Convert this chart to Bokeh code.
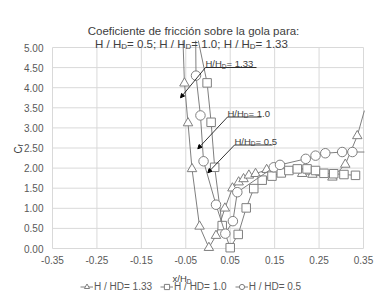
import math
from bokeh.plotting import figure
from bokeh.models import (Range1d, FixedTicker, NumeralTickFormatter, Label, Arrow,
                          NormalHead, Legend, LegendItem, LinearAxis)
from bokeh.embed import file_html
from bokeh.resources import INLINE

# ---- data ----
# first / last entries of a series are where its line leaves the plot area (no marker there)
x_133 = [-0.0563, -0.053, -0.045, -0.036, -0.019, 0.002, 0.018, 0.038, 0.055, 0.069, 0.080,
         0.092, 0.107, 0.132, 0.156, 0.212, 0.235, 0.280, 0.309, 0.336, 0.352]
y_133 = [5.17, 4.11, 3.12, 1.98, 0.55, 0.02, 0.32, 1.00, 1.50, 1.65, 1.73,
         1.82, 1.86, 1.96, 2.02, 1.86, 1.84, 1.77, 2.09, 2.80, 3.43]

x_100 = [-0.0218, -0.002, 0.007, 0.015, 0.032, 0.050, 0.068, 0.086, 0.103, 0.122, 0.144,
         0.165, 0.182, 0.201, 0.223, 0.242, 0.261, 0.283, 0.306, 0.332]
y_100 = [5.17, 4.12, 3.14, 2.02, 0.57, 0.02, 0.35, 1.01, 1.49, 1.70, 1.80,
         1.88, 1.94, 1.98, 1.98, 1.94, 1.87, 1.86, 1.84, 1.82]

x_050 = [-0.0277, -0.027, -0.017, -0.010, 0.018, 0.039, 0.056, 0.066, 0.148, 0.162,
         0.220, 0.242, 0.264, 0.302, 0.325, 0.352]
y_050 = [5.17, 4.30, 3.31, 2.17, 1.09, 0.37, 0.68, 1.40, 2.02, 2.08,
         2.23, 2.31, 2.37, 2.40, 2.40, 2.40]

x_ticks = [-0.35, -0.25, -0.15, -0.05, 0.05, 0.15, 0.25, 0.35]
y_ticks = [0.0, 0.5, 1.0, 1.5, 2.0, 2.5, 3.0, 3.5, 4.0, 4.5, 5.0]
x_min, x_max = -0.35, 0.35
y_min, y_max = 0.0, 5.0

legend_labels = ["H / HD= 1.33", "H / HD= 1.0", "H / HD= 0.5"]
title_line1 = "Coeficiente de fricción sobre la gola para:"
title_values = ["0.5", "1.0", "1.33"]
annot_values = ["1.33", "1.0", "0.5"]

FONT = "Liberation Sans"
TXT = "#404040"
GRAY = "#7f7f7f"
GRID = "#d9d9d9"

# canvas geometry: plot area spans pixels 52..363 (x) and 47..248 (y) of a 385x303 canvas
CW, CH = 385, 303
L, R, T, B = 52, 363, 47, 248
sx = (x_max - x_min) / (R - L)
sy = (y_max - y_min) / (B - T)
def px2x(px):
    return x_min + (px - L) * sx
def py2y(py):
    return y_min + (B - py) * sy

# Liberation Sans (Arial-metric) advance widths, em
W = {'H': 0.722, 'D': 0.722, '/': 0.278, ' ': 0.278, '=': 0.584, '.': 0.278, ';': 0.278,
     'x': 0.5, 'C': 0.722, 'f': 0.278}
def tw(s, fs):
    return sum(W.get(c, 0.556) for c in s) * fs

p = figure(width=CW, height=CH, output_backend="svg", toolbar_location=None,
           x_range=Range1d(px2x(0), px2x(CW)), y_range=Range1d(py2y(CH), py2y(0)),
           x_axis_location=None, y_axis_location=None, title=None,
           min_border=0, min_border_left=0, min_border_right=0, min_border_top=0,
           min_border_bottom=0)
p.background_fill_color = "white"
p.border_fill_color = "white"
p.outline_line_color = None
for g in p.grid:
    g.visible = False

xaxis = LinearAxis(fixed_location=y_min, ticker=FixedTicker(ticks=x_ticks),
                   formatter=NumeralTickFormatter(format="0.00"))
yaxis = LinearAxis(fixed_location=x_min, ticker=FixedTicker(ticks=y_ticks),
                   formatter=NumeralTickFormatter(format="0.00"))
for ax in (xaxis, yaxis):
    ax.axis_line_color = None
    ax.major_tick_line_color = None
    ax.minor_tick_line_color = None
    ax.major_tick_out = 0
    ax.major_tick_in = 0
    ax.major_label_text_font = FONT
    ax.major_label_text_font_size = "10px"
    ax.major_label_text_color = "#595959"
xaxis.major_label_standoff = 7
yaxis.major_label_standoff = 9
p.add_layout(xaxis, "below")
p.add_layout(yaxis, "left")

# grid restricted to the plot area
p.segment(x0=x_ticks, y0=[y_min] * len(x_ticks), x1=x_ticks, y1=[y_max] * len(x_ticks),
          line_color=GRID, line_width=1)
p.segment(x0=[x_min] * len(y_ticks), y0=y_ticks, x1=[x_max] * len(y_ticks), y1=y_ticks,
          line_color=GRID, line_width=1)

series = [(x_133, y_133, "triangle", 9.5, slice(1, -1)),
          (x_100, y_100, "square", 8.5, slice(1, None)),
          (x_050, y_050, "circle", 9.5, slice(1, -1))]
items = []
for (xs, ys, mk, sz, sl), lab in zip(series, legend_labels):
    l = p.line(xs, ys, line_color=GRAY, line_width=1)
    s = p.scatter(xs[sl], ys[sl], marker=mk, size=sz, fill_color="white", line_color=GRAY,
                  line_width=1)
    items.append(LegendItem(label=lab, renderers=[l, s]))

leg = Legend(items=items, orientation="horizontal", location=(80, 10),
             label_text_font=FONT, label_text_font_size="10px", label_text_color="#595959",
             glyph_width=13, glyph_height=13, label_standoff=1, spacing=8, padding=0, margin=0,
             border_line_color=None, background_fill_alpha=0)
p.add_layout(leg, "center")

def sub_text(x, y, parts, fs, sfs, align_center=False, color=TXT):
    total = sum(tw(t, sfs if s else fs) for t, s in parts)
    off = -total / 2 if align_center else 0
    for t, s in parts:
        f = sfs if s else fs
        p.add_layout(Label(x=x, y=y, x_offset=off, y_offset=(-2.5 if s else 0), text=t,
                           text_font=FONT, text_font_size=f"{f}px", text_color=color,
                           text_baseline="alphabetic", text_align="left"))
        off += tw(t, f)

# title
p.add_layout(Label(x=px2x(193), y=py2y(30), text=title_line1, text_font=FONT,
                   text_font_size="11.5px", text_color=TXT, text_align="center",
                   text_baseline="alphabetic"))
parts = []
for i, v in enumerate(title_values):
    parts += [("H / H", False), ("D", True), ("= " + v + ("; " if i < 2 else ""), False)]
sub_text(px2x(191), py2y(43.5), parts, 11.5, 8, align_center=True)

# annotations: text start, baseline, underline end, arrow tip
ann = [(205, 63, 256, 180, 97.3), (227, 112.5, 261, 197.3, 148.3),
       (234, 140.5, 272, 207.3, 172.3)]
for (tx, ty, ux, ax_, ay_), v in zip(ann, annot_values):
    sub_text(px2x(tx), py2y(ty), [("H/H", False), ("D", True), (" = " + v, False)], 9.5, 6.5)
    uy = py2y(ty + 4)
    p.segment(x0=[px2x(tx)], y0=[uy], x1=[px2x(ux)], y1=[uy], line_color="black",
              line_width=0.8)
    p.add_layout(Arrow(end=NormalHead(size=4, fill_color="black", line_color="black"),
                       x_start=px2x(tx), y_start=uy, x_end=px2x(ax_), y_end=py2y(ay_),
                       line_color="black", line_width=0.8))

# axis titles
sub_text(px2x(172), py2y(278), [("x/H", False), ("D", True)], 9.5, 6.5)
p.add_layout(Label(x=px2x(17.5), y=py2y(153), text="C", angle=math.pi / 2, text_font=FONT,
                   text_font_size="10px", text_color=TXT, text_baseline="alphabetic"))
p.add_layout(Label(x=px2x(19.5), y=py2y(145.8), text="f", angle=math.pi / 2, text_font=FONT,
                   text_font_size="7px", text_color=TXT, text_baseline="alphabetic"))

open("out.html", "w").write(file_html(p, INLINE))
